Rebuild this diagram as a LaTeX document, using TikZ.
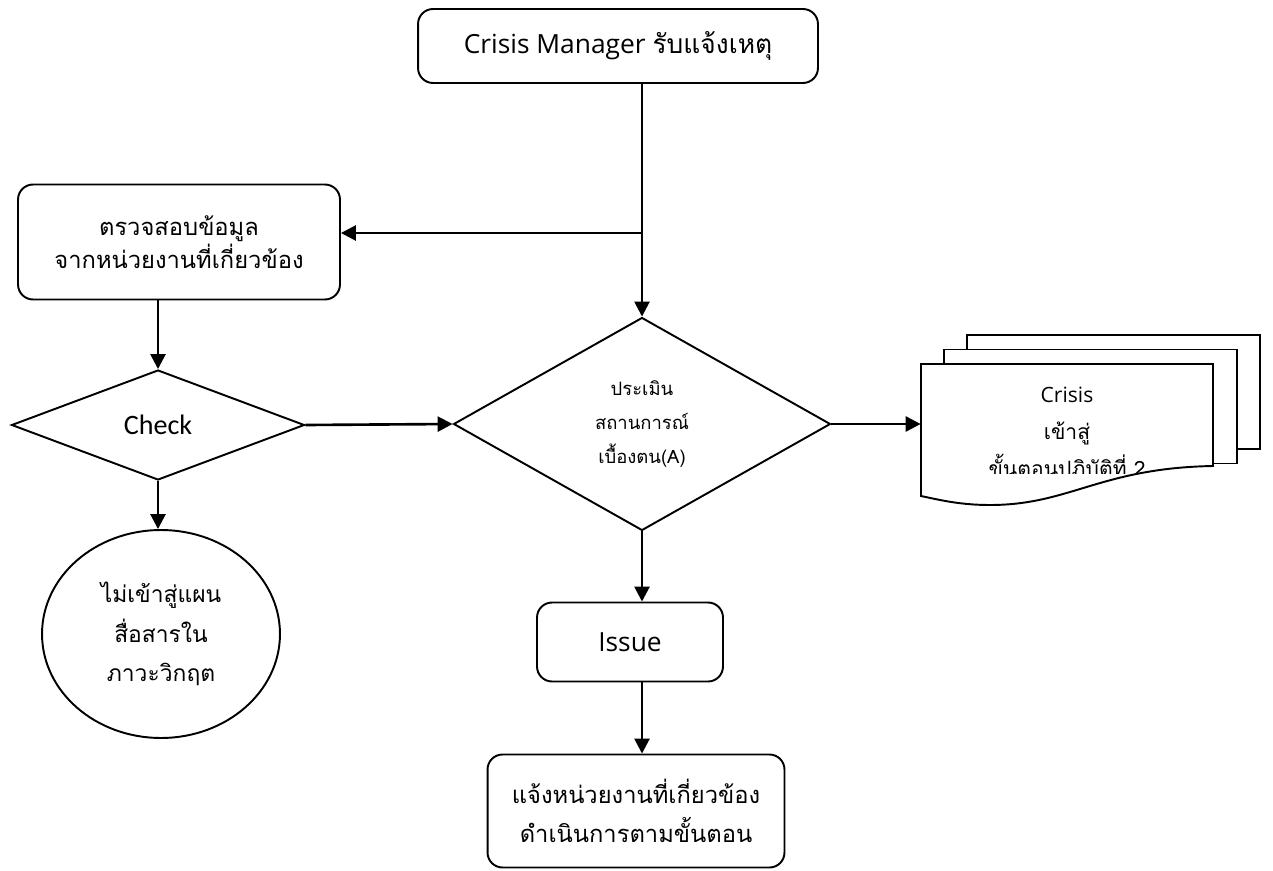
\documentclass[tikz,border=0pt]{standalone}
\usepackage{fontspec}
\setmainfont{Open Sans}
\newfontfamily\thaifont[Script=Thai]{Loma}
\newfontfamily\checkfont{Carlito}
\usepackage{tikz}
\usetikzlibrary{arrows.meta,shapes.geometric,positioning,calc}

\tikzset{
  flow/.style={line width=1.5pt,-{Triangle[length=0.3cm,width=0.3cm]}},
  procbox/.style={draw,line width=1.1pt,rounded corners=0.3cm,align=center,inner sep=0pt},
  decision/.style={draw,diamond,line width=1.1pt,align=center,inner sep=0pt},
  page/.style={draw,line width=1.1pt,fill=white}
}

\begin{document}
\begin{tikzpicture}[x=0.02cm,y=-0.02cm,font=\fontsize{15}{21}\selectfont]
\useasboundingbox (0,0) rectangle (1273,871);
%Kaesten und Rauten
\node[procbox,minimum width=8cm,minimum height=1.48cm] (topbox) at (618,46)
  {Crisis Manager {\thaifont รับแจ้งเหตุ}};
\node[procbox,minimum width=6.44cm,minimum height=2.3cm,font=\fontsize{13.5}{19}\selectfont] (leftbox) at (179,242)
  {\thaifont ตรวจสอบข้อมูล\\ \thaifont จากหน่วยงานที่เกี่ยวข้อง};
\node[decision,minimum width=5.86cm,minimum height=2.2cm] (check) at (158,425)
  {\checkfont\fontsize{16}{20}\selectfont Check};
\node[decision,minimum width=7.54cm,minimum height=4.26cm,font=\fontsize{10.5}{19.5}\selectfont] (big) at (642,424)
  {\thaifont ประเมิน\\ \thaifont สถานการณ์\\ \thaifont เบื้องตน(A)};
\node[draw,ellipse,line width=1.1pt,align=center,inner sep=0pt,minimum width=4.76cm,minimum height=4.16cm,font=\fontsize{13}{22.5}\selectfont] (noplan) at (161,634)
  {\thaifont ไม่เข้าสู่แผน\\ \thaifont สื่อสารใน\\ \thaifont ภาวะวิกฤต};
\node[procbox,minimum width=3.72cm,minimum height=1.58cm] (issue) at (630,642) {Issue};
\node[procbox,minimum width=5.94cm,minimum height=2.26cm,font=\fontsize{13.5}{22.5}\selectfont] (final) at (636,811)
  {\thaifont แจ้งหน่วยงานที่เกี่ยวข้อง\\ \thaifont ดำเนินการตามขั้นตอน};
%Dokumentstapel
\foreach \i in {2,1}{
\draw[page] (921+23*\i,364-14.5*\i) rectangle ++(293,114);
}
\draw[page] (921,364) -- (1213,364) -- (1213,466) .. controls (1100,468) and (1070,505) .. (990,505) .. controls (960,505) and (940,500) .. (921,496) -- cycle;
\begin{scope}
\clip (921,364) rectangle (1213,473);
\node[align=center,inner sep=0pt,minimum width=5.84cm,minimum height=2.64cm,font=\fontsize{12}{21}\selectfont] (crisisdoc) at (1067,434)
  {Crisis\\ \thaifont เข้าสู่\\ \thaifont ขั้นตอนปฏิบัติที่ 2};
\end{scope}
%Pfeile
\coordinate (split) at (643,233);
\draw[flow] (topbox.south -| big.north) -- (big.north);
\draw[flow] (split) -- (split -| leftbox.east);
\draw[flow] (leftbox.south -| check.north) -- (check.north);
\draw[flow] (check.east) -- (big.west);
\draw[flow] (big.east) -- (big.east -| crisisdoc.west);
\draw[flow] (check.south) -- (check.south |- noplan.north);
\draw[flow] (big.south) -- (big.south |- issue.north);
\draw[flow] (big.south |- issue.south) -- (big.south |- final.north);
\end{tikzpicture}
\end{document}
